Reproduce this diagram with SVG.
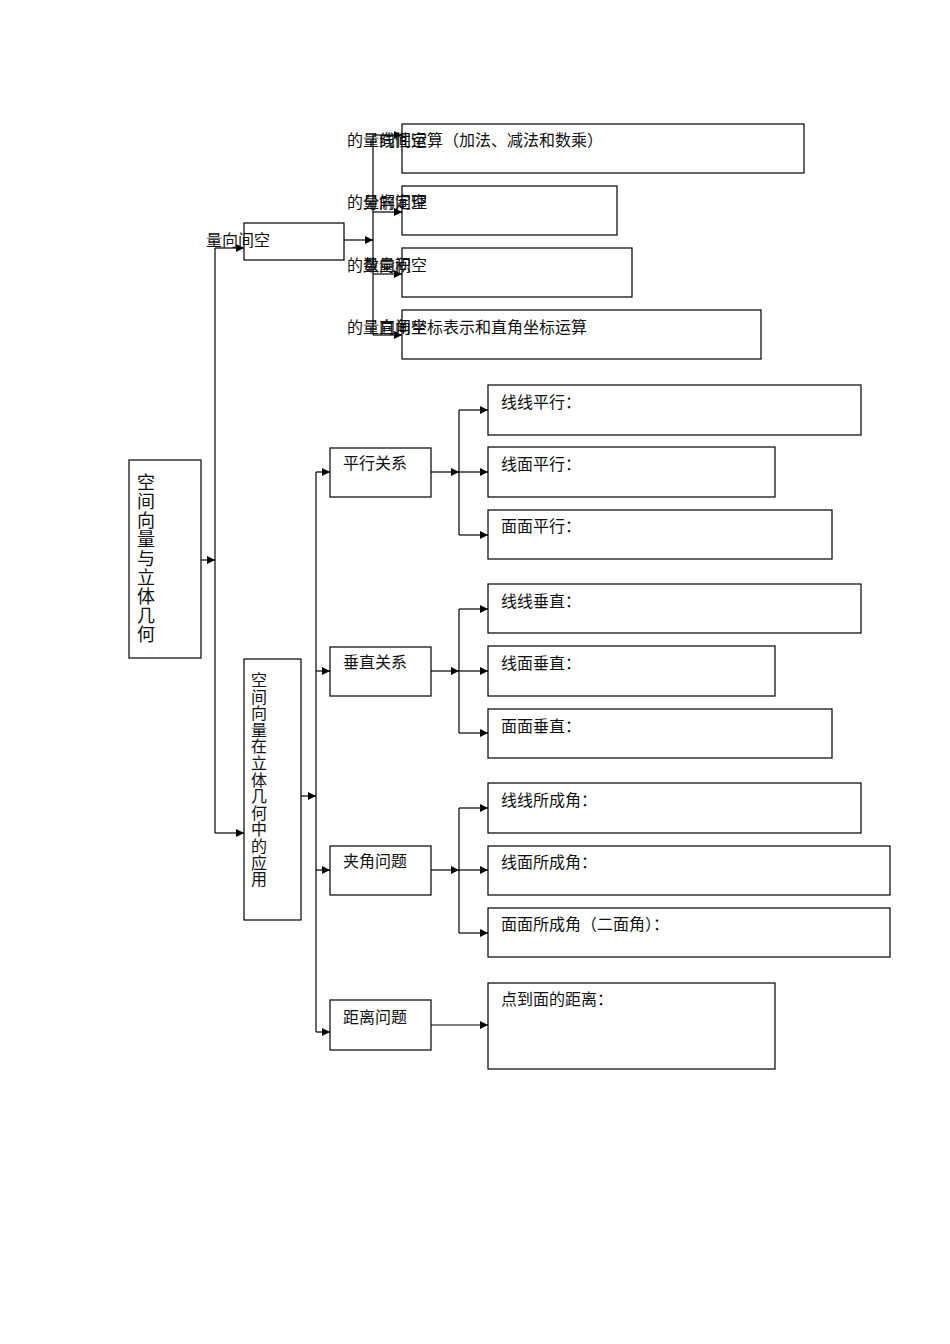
<svg xmlns="http://www.w3.org/2000/svg" width="950" height="1344" viewBox="0 0 950 1344">
<style>
.box{fill:#fff;stroke:#000;stroke-width:1.2}
.t{font-family:"Liberation Serif","Noto Sans CJK SC",serif;font-size:16px;fill:#111}
.v{font-family:"Liberation Serif","Noto Sans CJK SC",serif;fill:#111;text-anchor:middle}
.c{fill:none;stroke:#000;stroke-width:1.2}
</style>
<defs>
<marker id="ah" viewBox="0 0 10 10" refX="10" refY="5" markerWidth="10" markerHeight="8" markerUnits="userSpaceOnUse" orient="auto">
<path d="M0,0 L10,5 L0,10 z" fill="#000"/>
</marker>
</defs>
<rect width="950" height="1344" fill="#fff"/>

<g id="connectors">
<path class="c" d="M201,560 H215" marker-end="url(#ah)"/>
<path class="c" d="M215,248 V833"/>
<path class="c" d="M215,248 H244" marker-end="url(#ah)"/>
<path class="c" d="M215,833 H244" marker-end="url(#ah)"/>
<path class="c" d="M344,240 H373" marker-end="url(#ah)"/>
<path class="c" d="M373,135 V335"/>
<path class="c" d="M373,135 H402" marker-end="url(#ah)"/>
<path class="c" d="M373,212 H402" marker-end="url(#ah)"/>
<path class="c" d="M373,274 H402" marker-end="url(#ah)"/>
<path class="c" d="M373,335 H402" marker-end="url(#ah)"/>
<path class="c" d="M301,796 H316" marker-end="url(#ah)"/>
<path class="c" d="M316,472 V1032"/>
<path class="c" d="M316,472 H330" marker-end="url(#ah)"/>
<path class="c" d="M316,671 H330" marker-end="url(#ah)"/>
<path class="c" d="M316,870 H330" marker-end="url(#ah)"/>
<path class="c" d="M316,1032 H330" marker-end="url(#ah)"/>
<path class="c" d="M431,472 H459" marker-end="url(#ah)"/>
<path class="c" d="M459,410 V535"/>
<path class="c" d="M459,410 H488" marker-end="url(#ah)"/>
<path class="c" d="M459,472 H488" marker-end="url(#ah)"/>
<path class="c" d="M459,535 H488" marker-end="url(#ah)"/>
<path class="c" d="M431,671 H459" marker-end="url(#ah)"/>
<path class="c" d="M459,609 V733"/>
<path class="c" d="M459,609 H488" marker-end="url(#ah)"/>
<path class="c" d="M459,671 H488" marker-end="url(#ah)"/>
<path class="c" d="M459,733 H488" marker-end="url(#ah)"/>
<path class="c" d="M431,870 H459" marker-end="url(#ah)"/>
<path class="c" d="M459,808 V933"/>
<path class="c" d="M459,808 H488" marker-end="url(#ah)"/>
<path class="c" d="M459,870 H488" marker-end="url(#ah)"/>
<path class="c" d="M459,933 H488" marker-end="url(#ah)"/>
<path class="c" d="M431,1025 H488" marker-end="url(#ah)"/>
</g>

<g id="root">
<rect class="box" x="129" y="460" width="72" height="198"/>
<text class="v" font-size="18"><tspan x="146" y="489">空</tspan><tspan x="146" dy="19">间</tspan><tspan x="146" dy="19">向</tspan><tspan x="146" dy="19">量</tspan><tspan x="146" dy="19">与</tspan><tspan x="146" dy="19">立</tspan><tspan x="146" dy="19">体</tspan><tspan x="146" dy="19">几</tspan><tspan x="146" dy="19">何</tspan></text>
</g>

<g id="space-vector">
<rect class="box" x="244" y="223" width="100" height="37"/>
<text class="t" x="206" y="246">量向间空</text>
</g>

<g id="linear-ops">
<rect class="box" x="402" y="124" width="402" height="49"/>
<text class="t" y="146"><tspan x="347">的量向间空</tspan><tspan x="379">线性运算（加法、减法和数乘）</tspan></text>
</g>
<g id="decomp">
<rect class="box" x="402" y="186" width="215" height="49"/>
<text class="t" y="208"><tspan x="347">的量向间空</tspan><tspan x="363">分解定理</tspan></text>
</g>
<g id="dot-product">
<rect class="box" x="402" y="248" width="230" height="49"/>
<text class="t" y="271"><tspan x="347">的量向间空</tspan><tspan x="363">数量积</tspan></text>
</g>
<g id="coords">
<rect class="box" x="402" y="310" width="359" height="49"/>
<text class="t" y="333"><tspan x="347">的量向间空</tspan><tspan x="379">直角坐标表示和直角坐标运算</tspan></text>
</g>

<g id="application">
<rect class="box" x="244" y="659" width="57" height="261"/>
<text class="v" font-size="16"><tspan x="259" y="686">空</tspan><tspan x="259" dy="16.6">间</tspan><tspan x="259" dy="16.6">向</tspan><tspan x="259" dy="16.6">量</tspan><tspan x="259" dy="16.6">在</tspan><tspan x="259" dy="16.6">立</tspan><tspan x="259" dy="16.6">体</tspan><tspan x="259" dy="16.6">几</tspan><tspan x="259" dy="16.6">何</tspan><tspan x="259" dy="16.6">中</tspan><tspan x="259" dy="16.6">的</tspan><tspan x="259" dy="16.6">应</tspan><tspan x="259" dy="16.6">用</tspan></text>
</g>

<g id="parallel"><rect class="box" x="330" y="448" width="101" height="49"/><text class="t" x="343" y="469">平行关系</text></g>
<g id="perpendicular"><rect class="box" x="330" y="647" width="101" height="49"/><text class="t" x="343" y="668">垂直关系</text></g>
<g id="angle"><rect class="box" x="330" y="846" width="101" height="49"/><text class="t" x="343" y="867">夹角问题</text></g>
<g id="distance"><rect class="box" x="330" y="1000" width="101" height="50"/><text class="t" x="343" y="1023">距离问题</text></g>

<g id="ll-parallel"><rect class="box" x="488" y="385" width="373" height="50"/><text class="t" x="501" y="408">线线平行：</text></g>
<g id="lp-parallel"><rect class="box" x="488" y="447" width="287" height="50"/><text class="t" x="501" y="470">线面平行：</text></g>
<g id="pp-parallel"><rect class="box" x="488" y="510" width="344" height="49"/><text class="t" x="501" y="532">面面平行：</text></g>
<g id="ll-perp"><rect class="box" x="488" y="584" width="373" height="49"/><text class="t" x="501" y="607">线线垂直：</text></g>
<g id="lp-perp"><rect class="box" x="488" y="646" width="287" height="50"/><text class="t" x="501" y="669">线面垂直：</text></g>
<g id="pp-perp"><rect class="box" x="488" y="709" width="344" height="49"/><text class="t" x="501" y="732">面面垂直：</text></g>
<g id="ll-angle"><rect class="box" x="488" y="783" width="373" height="50"/><text class="t" x="501" y="806">线线所成角：</text></g>
<g id="lp-angle"><rect class="box" x="488" y="846" width="402" height="49"/><text class="t" x="501" y="868">线面所成角：</text></g>
<g id="pp-angle"><rect class="box" x="488" y="908" width="402" height="49"/><text class="t" x="501" y="930">面面所成角（二面角）：</text></g>
<g id="pt-plane"><rect class="box" x="488" y="983" width="287" height="86"/><text class="t" x="501" y="1005">点到面的距离：</text></g>
</svg>
